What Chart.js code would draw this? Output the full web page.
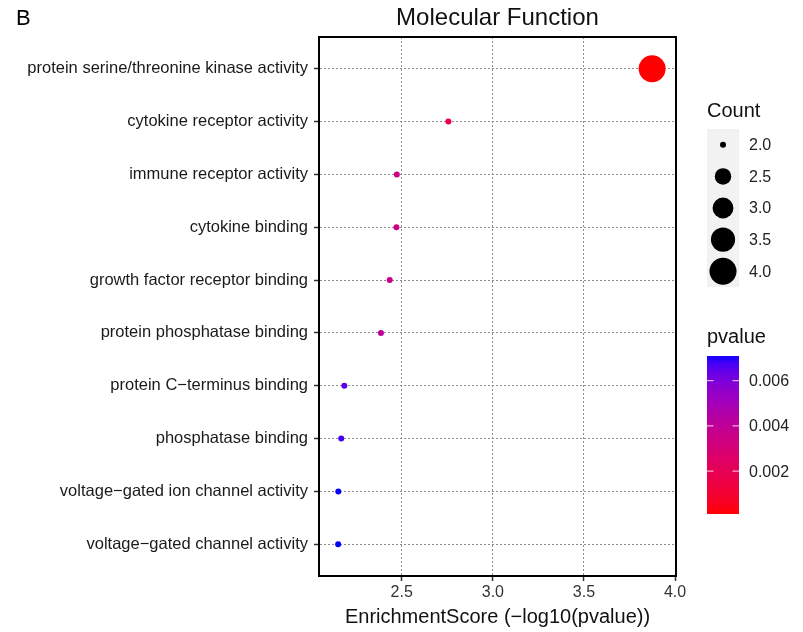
<!DOCTYPE html>
<html>
<head>
<meta charset="utf-8">
<script src="https://cdn.jsdelivr.net/npm/chart.js@4/dist/chart.umd.min.js"></script>
<style>
html,body{margin:0;padding:0;background:#fff;}
canvas{display:block;}
</style>
</head>
<body>
<canvas id="c" width="803" height="632"></canvas>
<script>
// ---- data ----
const categories = [
  "protein serine/threonine kinase activity",
  "cytokine receptor activity",
  "immune receptor activity",
  "cytokine binding",
  "growth factor receptor binding",
  "protein phosphatase binding",
  "protein C\u2212terminus binding",
  "phosphatase binding",
  "voltage\u2212gated ion channel activity",
  "voltage\u2212gated channel activity"
];
const enrichmentScore = [3.874, 2.756, 2.473, 2.471, 2.434, 2.386, 2.185, 2.168, 2.152, 2.151];
const counts = [4, 2, 2, 2, 2, 2, 2, 2, 2, 2];
const pvalues = [0.000134, 0.00175, 0.00337, 0.00338, 0.00368, 0.00411, 0.00653, 0.00679, 0.00705, 0.00706];
const xTicks = [2.5, 3.0, 3.5, 4.0];
const countBreaks = [2.0, 2.5, 3.0, 3.5, 4.0];
const pvalueBreaks = [0.002, 0.004, 0.006];

// ---- styling helpers ----
const FONT = '"Liberation Sans", Arial, Helvetica, sans-serif';
function radiusFor(c) {
  const t = Math.max(0, (c - 2) / (4 - 2));
  return 3.0 + (13.5 - 3.0) * Math.sqrt(t);
}
function s2l(c){c/=255;return c<=0.04045?c/12.92:Math.pow((c+0.055)/1.055,2.4);}
function l2s(c){c=c<=0.0031308?12.92*c:1.055*Math.pow(c,1/2.4)-0.055;return Math.round(Math.max(0,Math.min(1,c))*255);}
function rgb2lab(r,g,b){
  r=s2l(r);g=s2l(g);b=s2l(b);
  let X=(0.4124564*r+0.3575761*g+0.1804375*b)/0.95047;
  let Y=(0.2126729*r+0.7151522*g+0.0721750*b);
  let Z=(0.0193339*r+0.1191920*g+0.9503041*b)/1.08883;
  const f=t=>t>0.008856?Math.cbrt(t):7.787*t+16/116;
  const fx=f(X),fy=f(Y),fz=f(Z);
  return [116*fy-16,500*(fx-fy),200*(fy-fz)];
}
function lab2rgb(L,a,b){
  const fy=(L+16)/116,fx=fy+a/500,fz=fy-b/200;
  const fi=t=>{const t3=t*t*t;return t3>0.008856?t3:(t-16/116)/7.787;};
  const X=0.95047*fi(fx),Y=fi(fy),Z=1.08883*fi(fz);
  const r=3.2404542*X-1.5371385*Y-0.4985314*Z;
  const g=-0.9692660*X+1.8760108*Y+0.0415560*Z;
  const bb=0.0556434*X-0.2040259*Y+1.0572252*Z;
  return 'rgb('+l2s(r)+','+l2s(g)+','+l2s(bb)+')';
}
const LOW = rgb2lab(255,0,0), HIGH = rgb2lab(0,0,255);
const pMin = Math.min(...pvalues), pMax = Math.max(...pvalues);
function colorFor(p){
  const t = Math.max(0, Math.min(1, (p - pMin) / (pMax - pMin)));
  return lab2rgb(LOW[0]+(HIGH[0]-LOW[0])*t, LOW[1]+(HIGH[1]-LOW[1])*t, LOW[2]+(HIGH[2]-LOW[2])*t);
}

const points = categories.map((c, i) => ({ x: enrichmentScore[i], y: i + 1, r: radiusFor(counts[i]) }));
const colors = pvalues.map(colorFor);

// ---- extra drawing: panel border, titles, legends ----
const decor = {
  id: 'decor',
  afterDraw(chart) {
    const ctx = chart.ctx, a = chart.chartArea;
    ctx.save();
    // panel border
    ctx.strokeStyle = '#000'; ctx.lineWidth = 2;
    ctx.strokeRect(a.left, a.top, a.right - a.left, a.bottom - a.top);
    // panel letter
    ctx.fillStyle = '#000';
    ctx.font = '22px ' + FONT; ctx.textAlign = 'left'; ctx.textBaseline = 'alphabetic';
    ctx.fillText('B', 16, 25);
    // title
    ctx.fillStyle = '#111';
    ctx.font = '24px ' + FONT; ctx.textAlign = 'center';
    ctx.fillText('Molecular Function', (a.left + a.right) / 2, 25);
    // x axis title
    ctx.font = '20px ' + FONT;
    ctx.fillText('EnrichmentScore (\u2212log10(pvalue))', (a.left + a.right) / 2, 623);

    // Count legend
    const lx = 707, lw = 32;
    ctx.textAlign = 'left';
    ctx.font = '20px ' + FONT; ctx.fillStyle = '#111';
    ctx.fillText('Count', lx, 117);
    const itemTop = 129, itemH = 31.6;
    ctx.fillStyle = '#F2F2F2';
    ctx.fillRect(lx, itemTop, lw, itemH * countBreaks.length);
    countBreaks.forEach((c, i) => {
      const cy = itemTop + itemH * (i + 0.5);
      ctx.fillStyle = '#000';
      ctx.beginPath(); ctx.arc(lx + lw / 2, cy, radiusFor(c), 0, Math.PI * 2); ctx.fill();
      ctx.fillStyle = '#222'; ctx.font = '16px ' + FONT; ctx.textBaseline = 'middle';
      ctx.fillText(c.toFixed(1), 749, cy + 1);
    });

    // pvalue colorbar
    ctx.textBaseline = 'alphabetic';
    ctx.font = '20px ' + FONT; ctx.fillStyle = '#111';
    ctx.fillText('pvalue', lx, 343);
    const bTop = 356.7, bBot = 513.3;
    const N = 60;
    for (let k = 0; k < N; k++) {
      const t0 = k / N, t1 = (k + 1) / N;
      const p = pMin + (pMax - pMin) * (t0 + t1) / 2;
      ctx.fillStyle = colorFor(p);
      const y0 = bBot - (bBot - bTop) * t1, y1 = bBot - (bBot - bTop) * t0;
      ctx.fillRect(lx, Math.floor(y0), lw, Math.ceil(y1) - Math.floor(y0));
    }
    pvalueBreaks.forEach(p => {
      const y = bBot - (bBot - bTop) * (p - pMin) / (pMax - pMin);
      ctx.strokeStyle = 'rgba(255,255,255,0.85)'; ctx.lineWidth = 1;
      ctx.beginPath();
      ctx.moveTo(lx, y); ctx.lineTo(lx + 6.5, y);
      ctx.moveTo(lx + lw - 6.5, y); ctx.lineTo(lx + lw, y);
      ctx.stroke();
      ctx.fillStyle = '#222'; ctx.font = '16px ' + FONT; ctx.textBaseline = 'middle';
      ctx.fillText(p.toFixed(3), 749, y + 1);
    });
    ctx.restore();
  }
};

new Chart(document.getElementById('c'), {
  type: 'bubble',
  data: {
    datasets: [{
      data: points,
      backgroundColor: colors,
      borderColor: colors,
      borderWidth: 0,
      hoverBorderWidth: 0
    }]
  },
  options: {
    responsive: false,
    animation: false,
    events: [],
    layout: { padding: { left: 0, right: 127, top: 37, bottom: 0 } },
    plugins: { legend: { display: false }, tooltip: { enabled: false }, title: { display: false } },
    scales: {
      x: {
        type: 'linear',
        min: 2.046, max: 4.005,
        afterFit(s) { s.height = 56; },
        afterBuildTicks(s) { s.ticks = xTicks.map(v => ({ value: v })); },
        ticks: {
          callback: v => Number(v).toFixed(1),
          font: { family: FONT, size: 16 },
          color: '#333',
          padding: 2,
          maxRotation: 0
        },
        grid: {
          color: '#8c8c8c', lineWidth: 1,
          drawTicks: true, tickLength: 5, tickColor: '#333', tickWidth: 1.5, tickBorderDash: []
        },
        border: { display: true, color: '#000', width: 2, dash: [2, 2] }
      },
      y: {
        type: 'linear',
        reverse: true,
        min: 0.4, max: 10.6,
        afterFit(s) { s.width = 319; },
        afterBuildTicks(s) { s.ticks = categories.map((c, i) => ({ value: i + 1 })); },
        ticks: {
          callback: v => categories[Math.round(v) - 1] || '',
          font: { family: FONT, size: 16.5 },
          color: '#1a1a1a',
          padding: 6,
          autoSkip: false
        },
        grid: {
          color: '#8c8c8c', lineWidth: 1,
          drawTicks: true, tickLength: 5, tickColor: '#333', tickWidth: 1.5, tickBorderDash: []
        },
        border: { display: true, color: '#000', width: 2, dash: [2, 2] }
      }
    }
  },
  plugins: [decor]
});
</script>
</body>
</html>
